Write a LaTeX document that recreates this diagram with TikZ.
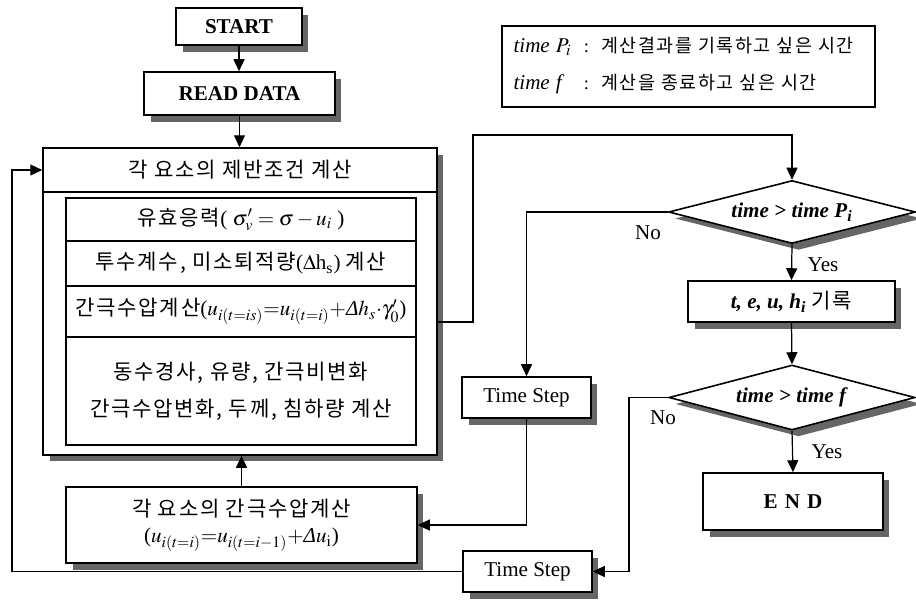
\documentclass[tikz,border=0pt]{standalone}
\usepackage{mathptmx}
\usepackage[no-math]{fontspec}
\setmainfont{Liberation Serif}
\newfontfamily\kr[LetterSpace=8]{Noto Sans CJK KR}
\usetikzlibrary{calc,shapes.geometric,arrows.meta,shadows}

\tikzset{
  sombra/.style={drop shadow={shadow xshift=0.13cm, shadow yshift=-0.13cm, fill=black!60, opacity=1}},
  caja/.style={draw, line width=0.9pt, fill=white, inner sep=0pt, font=\fontsize{12}{14}\selectfont},
  rombo/.style={caja, diamond, aspect=4, sombra},
  flecha/.style={line width=0.7pt, -{Triangle[length=0.24cm,width=0.22cm]}},
  linea/.style={line width=0.7pt},
  etiq/.style={font=\fontsize{12}{14}\selectfont, inner sep=0pt}
}

\begin{document}
\begin{tikzpicture}[x=0.02cm, y=-0.02cm]
  \useasboundingbox (0,0) rectangle (916,600);

  % inicio y lectura
  \node[caja, sombra, minimum width=2.52cm, minimum height=0.74cm] (start) at (239,26.5) {\textbf{START}};
  \node[caja, sombra, minimum width=3.82cm, minimum height=0.86cm] (read) at (239.5,93.5) {\textbf{READ DATA}};

  % bloque principal
  \node[caja, sombra, minimum width=7.88cm, minimum height=6.14cm] (outer) at (240,301.5) {};
  \node[caja, minimum width=7.88cm, minimum height=0.88cm] (hdr) at (240,170) {\kr 각 요소의 제반조건 계산};
  \node[caja, minimum width=7cm, minimum height=0.86cm] (r1) at (241,219.5)
    {{\kr 유효응력}( $\sigma^{\prime}_{v}=\sigma-u_i$ )};
  \node[caja, minimum width=7cm, minimum height=0.9cm] (r2) at (241,263.5)
    {{\kr 투수계수, 미소퇴적량}($\Delta$h\textsubscript{s}) {\kr 계산}};
  \node[caja, minimum width=7cm, minimum height=1.02cm] (r3) at (241,311.5)
    {{\kr 간극수압계산}($u_{i(t=is)}{=}u_{i(t=i)}{+}$\textit{Δ}$h_s{\cdot}\gamma^{\prime}_{0}$)};
  \node[caja, minimum width=7cm, minimum height=2.16cm, align=center] (r4) at (241,391)
    {{\kr 동수경사, 유량, 간극비변화}\\[7pt]{\kr 간극수압변화, 두께, 침하량 계산}};

  % presion de poros
  \node[caja, sombra, minimum width=7.02cm, minimum height=1.52cm, align=center] (bottom) at (241.5,525)
    {{\kr 각 요소의 간극수압계산}\\[1pt]($u_{i(t=i)}{=}u_{i(t=i-1)}{+}$\textit{Δ}$u_{\mathrm{i}}$)};

  % pasos de tiempo
  \node[caja, sombra, minimum width=2.58cm, minimum height=0.82cm] (ts1) at (526.5,397.5) {Time Step};
  \node[caja, sombra, minimum width=2.58cm, minimum height=0.82cm] (ts2) at (527.5,571.5) {Time Step};

  % decisiones
  \node[rombo, minimum width=4.94cm, minimum height=1.26cm] (d1) at (792,212)
    {\textbf{\textit{time > time P}\textsubscript{\textit{i}}}};
  \node[caja, sombra, minimum width=4.14cm, minimum height=0.82cm] (rec) at (791.5,301.5)
    {\textbf{\textit{t, e, u, h}\textsubscript{\textit{i}}} {\kr 기록}};
  \node[rombo, minimum width=4.92cm, minimum height=1.3cm] (d2) at (792,397.5)
    {\textbf{\textit{time > time f}}};
  \node[caja, sombra, minimum width=3.6cm, minimum height=1.14cm] (end) at (793,501.5)
    {\textbf{E\,\,N\,\,D}};

  % leyenda
  \node[draw, line width=0.9pt, text width=7.0cm, inner xsep=0.23cm, minimum height=1.62cm, align=left,
        font=\fontsize{10.5}{12}\selectfont] (ley) at (688.5,66.5)
    {\begin{tabular}{@{}l@{\ \ :\ \ }l@{}}
      {\fontsize{12}{14}\selectfont\textit{time} $P_i$} & {\kr 계산결과를 기록하고 싶은 시간}\\[9pt]
      {\fontsize{12}{14}\selectfont\textit{time f}} & {\kr 계산을 종료하고 싶은 시간}
    \end{tabular}};

  \node[etiq] (no1) at (648,233) {No};
  \node[etiq] (yes1) at (823,265) {Yes};
  \node[etiq] (no2) at (663,418) {No};
  \node[etiq] (yes2) at (827,452) {Yes};

  \coordinate (esq) at (473,135);
  \coordinate (codo2) at (629,398);
  \coordinate (codo3) at (12,572);

  % conexiones
  \draw[flecha] (start) -- (start |- read.north);
  \draw[flecha] (read) -- (read |- outer.north);
  \draw[flecha] (bottom.north) -- (bottom.north |- outer.south);
  \draw[flecha] ($(outer.east)+(0,20.5)$) -| (esq) -| (d1.north);
  \draw[flecha] (d1.west) -| (ts1.north);
  \draw[flecha] (d1.south) -- (rec.north);
  \draw[flecha] (rec.south) -- (d2.north);
  \draw[flecha] (d2.south) -- (end.north);
  \draw[flecha] (d2.west) -| (codo2) |- (ts2.east);
  \draw[flecha] (ts1.south) |- (bottom.east);
  \draw[flecha] (ts2.west) -| (codo3) |- (hdr.west);
\end{tikzpicture}
\end{document}
